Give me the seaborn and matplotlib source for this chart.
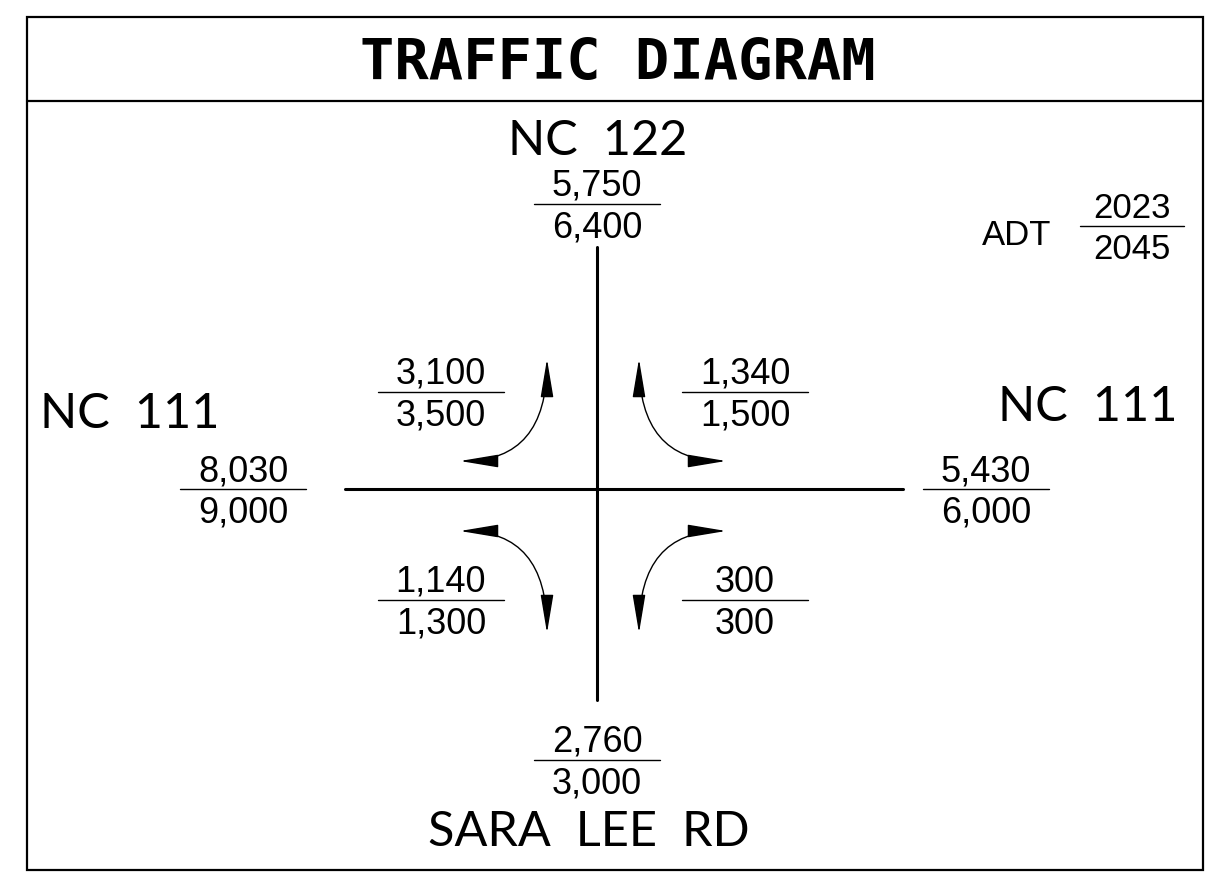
import numpy as np
import matplotlib
matplotlib.use("Agg")
import matplotlib.pyplot as plt
import seaborn as sns
from matplotlib.patches import FancyArrowPatch, Rectangle
from matplotlib.path import Path

sns.set_theme(style="white")
plt.rcParams['font.family'] = ['Liberation Sans', 'DejaVu Sans']
plt.rcParams['text.color'] = 'black'

# ---- data: ADT volumes (2023 over 2045) ----
approaches = ["NC 122", "NC 111 W", "NC 111 E", "SARA LEE RD"]
adt_2023 = [5750, 8030, 5430, 2760]
adt_2045 = [6400, 9000, 6000, 3000]

turns = ["NW", "NE", "SW", "SE"]
turn_2023 = [3100, 1340, 1140, 300]
turn_2045 = [3500, 1500, 1300, 300]

years = [2023, 2045]

# ---- layout (pixel canvas, y downwards) ----
W, H = 1209, 890
CX, CY = 597, 489
approach_pos = [(597, 204), (243, 489), (986, 489), (597, 760)]
turn_pos = [(441, 392), (745, 392), (441, 600), (745, 600)]
# arrow end points (tip1, tip2)
turn_arrows = [((547, 359), (460, 461)),
               ((639, 359), (726, 461)),
               ((460, 531), (547, 633)),
               ((726, 531), (639, 633))]
road_names = [("NC  122", 598, 155, "center"),
              ("NC  111", 40, 428, "left"),
              ("NC  111", 1178, 421, "right"),
              ("SARA  LEE  RD", 589, 846, "center")]

NUM_SIZE = 26
ROAD_FONT = ['Lato', 'DejaVu Sans']

fig = plt.figure(figsize=(W / 100, H / 100), dpi=100)
ax = fig.add_axes([0, 0, 1, 1])
ax.set_xlim(0, W)
ax.set_ylim(H, 0)
ax.axis("off")


def fraction(ax, x, y, top, bottom, half=63, size=NUM_SIZE):
    ax.plot([x - half, x + half], [y, y], color="black", lw=1)
    ax.text(x, y - 8, top, ha="center", va="baseline", fontsize=size)
    ax.text(x, y + 8 + size * 0.99, bottom, ha="center", va="baseline", fontsize=size)


# frame and title
ax.add_patch(Rectangle((27, 17), 1176, 853, fill=False, lw=1.6, ec="black"))
ax.plot([27, 1203], [101, 101], color="black", lw=1.6)
ax.text(618, 80, "TRAFFIC DIAGRAM", ha="center", va="baseline",
        fontsize=41, fontweight="bold", family=['DejaVu Sans Mono'])

# roads
ax.plot([CX, CX], [247, 700], color="black", lw=2.2)
ax.plot([345, 903], [CY, CY], color="black", lw=2.2)

for name, x, y, ha in road_names:
    ax.text(x, y, name, ha=ha, va="baseline", fontsize=35, family=ROAD_FONT)

# approach volumes
for (x, y), a, b in zip(approach_pos, adt_2023, adt_2045):
    fraction(ax, x, y, f"{a:,}", f"{b:,}")

# turning volumes
for (x, y), a, b in zip(turn_pos, turn_2023, turn_2045):
    fraction(ax, x, y, f"{a:,}", f"{b:,}")

# turning arrows (quadratic arcs with heads on both ends)
for (p1, p2) in turn_arrows:
    # control point: corner sharing x with the vertical tip, y with the horizontal tip
    if abs(p1[0] - CX) < abs(p2[0] - CX):
        ctrl = (p1[0], p2[1])
    else:
        ctrl = (p2[0], p1[1])
    path = Path([p1, ctrl, p2], [Path.MOVETO, Path.CURVE3, Path.CURVE3])
    arr = FancyArrowPatch(path=path, arrowstyle="<|-|>,head_length=1.2,head_width=0.2",
                          mutation_scale=20, lw=1, color="black",
                          shrinkA=0, shrinkB=0, transform=ax.transData)
    ax.add_patch(arr)

# legend: ADT year key
ax.text(1017, 245, "ADT", ha="center", va="baseline", fontsize=25)
fraction(ax, 1132, 226, str(years[0]), str(years[1]), half=52, size=25)

fig.savefig("out.png", dpi=100)
